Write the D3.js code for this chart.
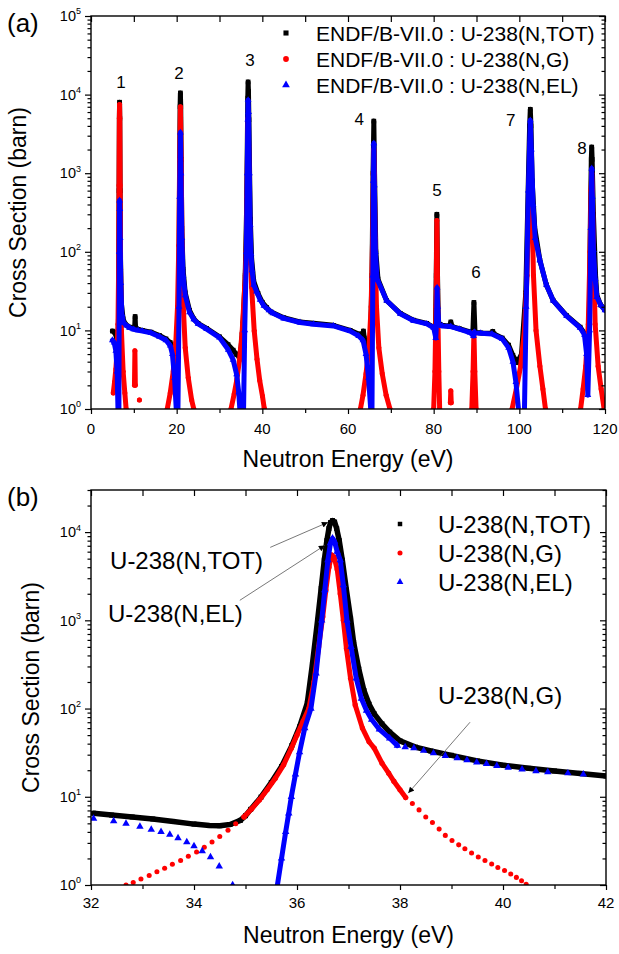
<!DOCTYPE html>
<html>
<head>
<meta charset="utf-8">
<script src="https://cdn.jsdelivr.net/npm/d3@7"></script>
<style>
  body { margin: 0; background: #fff; }
  svg { font-family: "Liberation Sans", Arial, sans-serif; }
  .axis path.domain { display: none; }
  .axis line { stroke: #000; stroke-width: 1.2px; }
</style>
</head>
<body>
<svg width="619" height="954"></svg>
<script>
// ---------- panel (a): 0-120 eV, [energy eV, cross section barn], null = gap ----------
const topTot = [
  [5.0,9.8],[5.5,9.5],[6.0,8.0],[6.3,5.0],[6.45,20],[6.55,600],[6.62,5000],[6.67,8000],[6.72,5000],[6.8,600],[6.9,80],
  [7.1,22],[7.5,14],[8.0,12],[9.0,11],[10.0,10.5],[10.2,11],[10.3,15],[10.4,11],[11.0,10.3],[12.0,10.0],[14.0,9.5],
  [16.0,8.6],[17.5,7.8],[18.5,7.0],[19.2,5.8],[19.8,4.5],[20.3,6.5],[20.55,50],[20.7,1500],[20.8,7000],[20.87,10500],
  [20.95,7000],[21.05,1500],[21.2,200],[21.5,60],[22.0,30],[23.0,18],[24.0,14],[25.0,12.3],[27.0,10.6],[30.0,8.3],
  [32.0,6.6],[33.2,5.6],[34.0,4.9],[34.5,4.7],[35.0,5.7],[35.5,12.5],[36.0,50],[36.3,300],[36.5,2600],[36.6,9000],
  [36.68,14500],[36.76,11000],[36.87,4800],[37.03,1000],[37.2,260],[37.5,82],[38.0,42],[39.0,29.5],[40.0,22.8],
  [41.0,19.6],[42.0,17.2],[45.0,14.5],[48.8,12.8],[52.0,12.3],[56.6,11.6],[60.5,10.0],[62.5,9.0],[63.4,9.0],[63.6,9.8],
  [63.8,8.0],[64.5,5.5],[65.2,6.0],[65.6,50],[65.85,1000],[66.03,4600],[66.2,1000],[66.5,100],[67.0,45],[69.0,24],
  [72.2,16.5],[75.3,13.5],[78.4,12.3],[80.0,11.0],[80.4,10.0],[80.6,50],[80.75,300],[80.9,50],[81.1,12.5],[82.0,11.6],
  [83.7,11.3],[84.0,12.8],[84.3,11.2],[86.0,10.5],[88.5,9.6],[89.15,9.6],[89.4,22.7],[89.65,9.5],[91.0,9.3],[93.5,9.2],
  [93.8,9.7],[94.1,9.0],[96.0,8.0],[97.5,6.5],[98.5,4.8],[99.5,3.9],[100.5,5.0],[101.5,30],[102.1,800],[102.4,4000],
  [102.56,6500],[102.72,4000],[103.0,800],[103.6,200],[104.8,78],[106.3,38],[107.9,24],[111.0,15.5],[114.2,11.0],
  [115.3,9.0],[115.9,6.0],[116.3,10],[116.6,300],[116.8,1500],[116.9,2150],[117.0,1500],[117.3,300],[117.8,50],
  [118.1,28],[119.0,21],[120.0,18.5]
];
const topCap = [
  [5.2,1.6],[5.5,2.2],[5.8,3.2],[6.1,5.5],[6.3,12],[6.45,60],[6.55,700],[6.62,5000],[6.67,7500],[6.72,5000],[6.8,700],
  [6.9,60],[7.1,10],[7.5,3.0],[7.9,1.6],[8.2,1.0],[8.3,null],
  [10.15,2.0],[10.25,5.5],[10.35,2.0],[10.4,null],[11.3,1.3],[11.35,null],
  [17.8,1.0],[18.5,1.6],[19.2,3.0],[19.8,7.0],[20.2,20],[20.5,120],[20.7,1500],[20.87,7000],[21.05,1500],[21.25,120],
  [21.55,20],[22.0,6.0],[22.7,2.5],[23.5,1.3],[24.0,1.0],[24.1,null],
  [32.68,1.0],[33.43,1.55],[34.05,2.36],[34.66,4.17],[35.27,9.2],[35.89,35.5],[36.23,100],[36.42,500],[36.56,2200],
  [36.67,5000],[36.8,2200],[36.96,480],[37.13,110],[37.5,35.6],[38.11,9.8],[38.76,4.3],[39.39,2.3],[40.03,1.46],
  [40.45,1.02],[40.5,null],
  [62.9,1.0],[63.5,1.5],[64.2,2.8],[64.9,6.0],[65.4,20],[65.75,150],[65.92,1000],[66.03,2000],[66.14,1000],[66.3,150],
  [66.65,20],[67.2,6.0],[68.0,2.8],[68.9,1.5],[69.8,1.0],[69.9,null],
  [80.0,1.0],[80.3,3.0],[80.55,20],[80.75,250],[80.95,20],[81.2,3.0],[81.4,1.0],[81.5,null],
  [83.9,1.2],[84.0,1.7],[84.1,1.2],[84.2,null],
  [88.9,1.0],[89.2,3.0],[89.4,9.5],[89.6,3.0],[89.9,1.0],[90.0,null],
  [98.3,1.0],[99.3,1.8],[100.3,3.5],[101.2,10],[101.8,50],[102.2,500],[102.56,2500],[102.9,500],[103.3,50],[103.9,10],
  [104.8,3.5],[105.5,1.8],[106.1,1.0],[106.2,null],
  [114.3,1.0],[114.9,1.8],[115.5,3.5],[116.1,12],[116.5,100],[116.75,600],[116.9,1000],[117.05,600],[117.3,100],
  [117.7,12],[118.4,3.5],[119.1,1.8],[119.8,1.0]
];
const topEl = [
  [5.0,7.5],[5.4,7.0],[5.8,5.5],[6.1,3.0],[6.3,1.0],[6.4,null],[6.52,1.0],[6.6,100],[6.67,450],[6.72,350],[6.8,150],
  [6.95,40],[7.2,16],[7.6,12.5],[8.3,11.5],[9.0,10.8],[10.0,10.3],[11.0,10.0],[12.0,9.8],[14.0,9.3],[16.0,8.3],
  [17.5,7.5],[18.5,6.4],[19.0,5.0],[19.5,2.5],[19.9,1.0],[20.0,null],[20.3,1.0],[20.55,20],[20.7,500],[20.87,3300],
  [21.0,1000],[21.2,150],[21.5,50],[22.0,28],[23.0,17],[24.0,13.8],[25.0,12.1],[27.0,10.4],[30.0,8.1],[32.05,5.66],
  [33.17,4.24],[34.0,2.76],[34.49,1.63],[34.75,1.0],[34.8,null],[35.62,1.0],[35.89,10],[36.27,100],[36.48,1000],
  [36.6,4800],[36.68,8500],[36.78,6000],[36.97,1000],[37.15,220],[37.35,95],[37.6,58],[38.0,38],[38.65,31.2],
  [39.49,24.6],[40.37,20.5],[41.56,18.0],[42.5,16.5],[45.0,14.2],[48.8,12.6],[52.0,12.0],[56.6,11.4],[60.5,9.8],
  [62.5,8.5],[63.5,7.5],[64.2,5.0],[64.8,2.5],[65.3,1.0],[65.4,null],[65.6,1.0],[65.8,50],[65.93,800],[66.03,2400],
  [66.15,700],[66.4,100],[66.8,45],[69.0,24],[72.2,16.3],[75.3,13.3],[78.4,12.1],[80.0,10.8],[80.5,8.0],[80.65,12],
  [80.8,35],[80.95,20],[81.2,12],[82.0,11.4],[84.0,11.2],[86.0,10.4],[88.5,9.4],[89.3,8.5],[89.5,9.5],[89.7,9.3],
  [91.0,9.2],[93.6,9.0],[96.0,7.8],[97.5,6.0],[98.5,4.0],[99.2,2.2],[99.8,1.0],[99.9,null],[101.2,1.0],[101.6,20],
  [102.1,600],[102.56,4700],[102.8,2000],[103.2,400],[103.7,150],[104.8,78],[106.3,38],[107.9,24],[111.0,15.3],
  [114.2,10.8],[115.2,8.8],[115.7,5.0],[116.0,1.5],[116.4,10],[116.7,200],[116.9,1150],[117.05,500],[117.3,105],
  [117.7,45],[118.1,26.6],[119.0,21],[120.0,18]
];
const peakLabels = [["1",7.0,14400],["2",20.55,18700],["3",37.1,27300],["4",62.6,4850],
                    ["5",80.8,605],["6",89.9,55],["7",98.0,4710],["8",114.6,2130]];

// ---------- panel (b): 32-42 eV ----------
const botTot = [
  [32.05,6.5],[32.4,6.2],[32.8,5.9],[33.2,5.6],[33.6,5.25],[34.0,4.9],[34.3,4.72],[34.5,4.7],[34.7,4.85],[34.9,5.4],
  [35.0,6.1],[35.1,7.2],[35.3,9.9],[35.5,14.5],[35.7,22],[35.9,38],[36.05,62],[36.2,115],[36.3,320],[36.4,1000],
  [36.47,2300],[36.53,4800],[36.58,8000],[36.62,11000],[36.65,12800],[36.69,13500],[36.73,13000],[36.77,11000],
  [36.82,8000],[36.88,4800],[36.96,2200],[37.04,1050],[37.1,560],[37.2,280],[37.3,160],[37.4,112],[37.5,87],
  [37.65,67],[37.8,54],[38.0,43],[38.3,36.5],[38.6,33],[39.0,29.5],[39.5,25.5],[40.0,22.8],[40.5,21],[41.0,19.6],
  [41.5,18.4],[42.0,17.2]
];
const botCapTailL = [
  [32.68,1.0],[32.82,1.07],[32.97,1.17],[33.13,1.28],[33.28,1.41],[33.43,1.55],[33.58,1.72],[33.74,1.9],[33.89,2.12],
  [34.05,2.36],[34.2,2.68],[34.35,3.07],[34.5,3.55],[34.66,4.17],[34.81,4.95]
];
const botCapCore = [
  [34.97,5.9],[35.12,7.3],[35.27,9.2],[35.42,12],[35.58,16.2],[35.74,23],[35.89,35.5],[36.0,50],[36.12,72],[36.23,100],
  [36.33,200],[36.42,500],[36.5,1100],[36.56,2200],[36.62,4000],[36.67,5500],[36.72,5200],[36.78,3800],[36.84,2000],
  [36.9,1000],[36.96,480],[37.04,220],[37.13,110],[37.27,60],[37.4,42],[37.5,35.6],[37.65,24],[37.78,18.5],
  [37.88,15],[38.0,12],[38.11,9.8]
];
const botCapTailR = [
  [38.24,8.4],[38.37,7.1],[38.5,5.9],[38.63,5.1],[38.76,4.3],[38.88,3.65],[39.01,3.2],[39.14,2.85],[39.26,2.57],
  [39.39,2.3],[39.52,2.08],[39.65,1.9],[39.78,1.73],[39.9,1.58],[40.03,1.46],[40.15,1.33],[40.26,1.22],[40.36,1.12],
  [40.45,1.02]
];
const botElTailL = [
  [32.05,5.66],[32.44,5.3],[32.68,4.96],[32.95,4.6],[33.17,4.24],[33.36,4.0],[33.53,3.72],[33.69,3.4],[33.86,3.07],
  [34.0,2.76],[34.16,2.42],[34.32,2.07],[34.49,1.63],[34.75,1.0]
];
const botElCore = [
  [35.62,1.0],[35.7,2.0],[35.78,4.0],[35.84,6.5],[35.89,10],[35.97,18],[36.05,32],[36.15,60],[36.27,100],[36.37,250],
  [36.48,1000],[36.54,2200],[36.6,4800],[36.65,7500],[36.69,8500],[36.73,7800],[36.78,6000],[36.84,4800],[36.9,2500],
  [36.97,1000],[37.05,500],[37.15,220],[37.25,130],[37.35,95],[37.45,75],[37.6,58],[37.8,46],[37.95,38]
];
const botElTailR = [
  [38.1,36.5],[38.27,35.6],[38.46,33.3],[38.65,31.2],[38.88,29.1],[39.11,27.4],[39.3,26],[39.49,24.6],[39.68,23.6],
  [39.88,22.4],[40.1,21.4],[40.37,20.5],[40.64,19.6],[40.87,19.1],[41.26,18.5],[41.56,18.0]
];
// annotation texts [label, energy, barn] and arrows [[E0,s0],[E1,s1]]
const botNotes = [["U-238(N,TOT)",32.37,4790],["U-238(N,EL)",32.33,1200],["U-238(N,G)",38.74,141]];
const botArrows = [[[35.48,6710],[36.6,12900]],[[34.89,1686],[36.54,7070]],[[39.36,70],[38.16,11]]];

const topLegend = ["ENDF/B-VII.0 : U-238(N,TOT)", "ENDF/B-VII.0 : U-238(N,G)", "ENDF/B-VII.0 : U-238(N,EL)"];
const botLegend = ["U-238(N,TOT)", "U-238(N,G)", "U-238(N,EL)"];

const BLACK = "#000", RED = "#ff0000", BLUE = "#0000ff";
const legendColors = [BLACK, RED, BLUE];
const legendSymbols = [d3.symbolSquare, d3.symbolCircle, d3.symbolTriangle];

const svg = d3.select("svg");
const defs = svg.append("defs");
defs.append("marker").attr("id", "arrow").attr("viewBox", "0 0 10 10")
  .attr("refX", 10).attr("refY", 5).attr("markerWidth", 9).attr("markerHeight", 6)
  .attr("markerUnits", "userSpaceOnUse").attr("orient", "auto")
  .append("path").attr("d", "M0,0L10,5L0,10z").attr("fill", "#000");

function minorLog(lo, hi) {
  const out = [];
  for (let d = lo; d < hi; d *= 10)
    for (let k = 2; k <= 9; k++) if (d * k <= hi) out.push(d * k);
  return out;
}

function drawPanel(p) {
  const x = d3.scaleLinear().domain(p.xDomain).range([p.left, p.right]);
  const y = d3.scaleLog().domain(p.yDomain).range([p.bottom, p.top]);
  const g = svg.append("g");

  defs.append("clipPath").attr("id", "clip-" + p.id).append("rect")
    .attr("x", p.left).attr("y", p.top).attr("width", p.right - p.left).attr("height", p.bottom - p.top);
  const plot = g.append("g").attr("clip-path", `url(#clip-${p.id})`);

  const line = d3.line().defined(d => d[1] != null).x(d => x(d[0])).y(d => y(d[1]));
  p.series.forEach(s => {
    if (s.width)
      plot.append("path").datum(s.data).attr("d", line)
        .attr("fill", "none").attr("stroke", s.color).attr("stroke-width", s.width)
        .attr("stroke-linejoin", "round").attr("stroke-linecap", "round");
    plot.append("g").selectAll("path")
      .data(s.data.filter(d => d[1] != null))
      .join("path")
      .attr("transform", d => `translate(${x(d[0])},${y(d[1])})`)
      .attr("d", d3.symbol(s.symbol, s.size)())
      .attr("fill", s.color);
  });

  const decades = d3.range(Math.log10(p.yDomain[0]), Math.floor(Math.log10(p.yDomain[1])) + 1).map(e => Math.pow(10, e));
  const minors = minorLog(p.yDomain[0], p.yDomain[1]).filter(v => !decades.includes(v));

  const ax = (sel, axis) => g.append("g").attr("class", "axis").attr("transform", sel).call(axis);
  ax(`translate(0,${p.bottom})`, d3.axisBottom(x).tickValues(p.xMajor).tickSize(5).tickFormat(""));
  ax(`translate(0,${p.bottom})`, d3.axisBottom(x).tickValues(p.xMinor).tickSize(4).tickFormat(""));
  ax(`translate(0,${p.top})`, d3.axisBottom(x).tickValues(p.xTop).tickSize(6).tickFormat(""));
  ax(`translate(${p.left},0)`, d3.axisLeft(y).tickValues(decades).tickSize(6).tickFormat(""));
  ax(`translate(${p.left},0)`, d3.axisLeft(y).tickValues(minors).tickSize(3.5).tickFormat(""));
  ax(`translate(${p.right},0)`, d3.axisLeft(y).tickValues(decades).tickSize(-6).tickFormat(""))
    .selectAll("line").attr("x2", -6);
  ax(`translate(${p.right},0)`, d3.axisLeft(y).tickValues(minors).tickSize(-3.5).tickFormat(""))
    .selectAll("line").attr("x2", -3.5);

  g.append("rect").attr("x", p.left).attr("y", p.top)
    .attr("width", p.right - p.left).attr("height", p.bottom - p.top)
    .attr("fill", "none").attr("stroke", "#000").attr("stroke-width", 1.4);

  // x tick labels
  g.append("g").selectAll("text").data(p.xMajor).join("text")
    .attr("x", d => x(d)).attr("y", p.bottom + p.labelOff)
    .attr("text-anchor", "middle").attr("font-size", 15).text(d => d);

  // y tick labels 10^n
  const yl = g.append("g").selectAll("text").data(decades).join("text")
    .attr("x", p.left - 10).attr("y", d => y(d)).attr("dy", "0.36em")
    .attr("text-anchor", "end").attr("font-size", 14.5);
  yl.append("tspan").text("10");
  yl.append("tspan").attr("font-size", 9).attr("dy", "-0.75em").text(d => Math.round(Math.log10(d)));

  g.append("text").attr("x", (p.left + p.right) / 2).attr("y", p.bottom + 57.5)
    .attr("text-anchor", "middle").attr("font-size", 23).text("Neutron Energy (eV)");
  g.append("text").attr("transform", `translate(${p.yTitleX},${(p.top + p.bottom) / 2}) rotate(-90)`)
    .attr("dy", "0.36em").attr("text-anchor", "middle").attr("font-size", 23).text("Cross Section (barn)");
  g.append("text").attr("x", 7).attr("y", p.tagY).attr("font-size", 26).text(p.tag);

  return { x, y, g };
}

// ---------- panel (a) ----------
const A = drawPanel({
  id: "a", tag: "(a)", tagY: 32,
  left: 91, right: 605, top: 16, bottom: 409, labelOff: 25, yTitleX: 18,
  xDomain: [0, 120], yDomain: [1, 1e5],
  xMajor: [0, 20, 40, 60, 80, 100, 120], xMinor: [10, 30, 50, 70, 90, 110],
  xTop: d3.range(0, 121, 10),
  series: [
    { data: topTot, color: BLACK, symbol: d3.symbolSquare, size: 22, width: 5 },
    { data: topCap, color: RED, symbol: d3.symbolCircle, size: 20, width: 5 },
    { data: topEl, color: BLUE, symbol: d3.symbolTriangle, size: 20, width: 5 }
  ]
});

A.g.append("g").selectAll("text").data(peakLabels).join("text")
  .attr("x", d => A.x(d[1])).attr("y", d => A.y(d[2])).attr("dy", "0.36em")
  .attr("text-anchor", "middle").attr("font-size", 17).text(d => d[0]);

const legA = A.g.append("g").selectAll("g").data(topLegend).join("g")
  .attr("transform", (d, i) => `translate(0,${33 + i * 26})`);
legA.append("path").attr("transform", "translate(286,0)")
  .attr("d", (d, i) => d3.symbol(legendSymbols[i], 26)())
  .attr("fill", (d, i) => legendColors[i]);
legA.append("text").attr("x", 316).attr("dy", "0.36em").attr("font-size", 21).text(d => d);

// ---------- panel (b) ----------
const B = drawPanel({
  id: "b", tag: "(b)", tagY: 506,
  left: 91, right: 606, top: 490, bottom: 885, labelOff: 23, yTitleX: 31,
  xDomain: [32, 42], yDomain: [1, 3e4],
  xMajor: [32, 34, 36, 38, 40, 42], xMinor: [33, 35, 37, 39, 41],
  xTop: d3.range(32, 43, 1),
  series: [
    { data: botTot, color: BLACK, symbol: d3.symbolSquare, size: 25, width: 5.5 },
    { data: botCapTailL, color: RED, symbol: d3.symbolCircle, size: 20 },
    { data: botCapCore, color: RED, symbol: d3.symbolCircle, size: 22, width: 5 },
    { data: botCapTailR, color: RED, symbol: d3.symbolCircle, size: 20 },
    { data: botElTailL, color: BLUE, symbol: d3.symbolTriangle, size: 24 },
    { data: botElCore, color: BLUE, symbol: d3.symbolTriangle, size: 24, width: 5 },
    { data: botElTailR, color: BLUE, symbol: d3.symbolTriangle, size: 24 }
  ]
});

B.g.append("g").selectAll("text").data(botNotes).join("text")
  .attr("x", d => B.x(d[1])).attr("y", d => B.y(d[2])).attr("dy", "0.36em")
  .attr("font-size", 24).text(d => d[0]);
B.g.append("g").selectAll("line").data(botArrows).join("line")
  .attr("x1", d => B.x(d[0][0])).attr("y1", d => B.y(d[0][1]))
  .attr("x2", d => B.x(d[1][0])).attr("y2", d => B.y(d[1][1]))
  .attr("stroke", "#555").attr("stroke-width", 0.8).attr("marker-end", "url(#arrow)");

const legB = B.g.append("g").selectAll("g").data(botLegend).join("g")
  .attr("transform", (d, i) => `translate(0,${524 + i * 29})`);
legB.append("path").attr("transform", "translate(400,0)")
  .attr("d", (d, i) => d3.symbol(legendSymbols[i], 20)())
  .attr("fill", (d, i) => legendColors[i]);
legB.append("text").attr("x", 438).attr("dy", "0.36em").attr("font-size", 24).text(d => d);
</script>
</body>
</html>
